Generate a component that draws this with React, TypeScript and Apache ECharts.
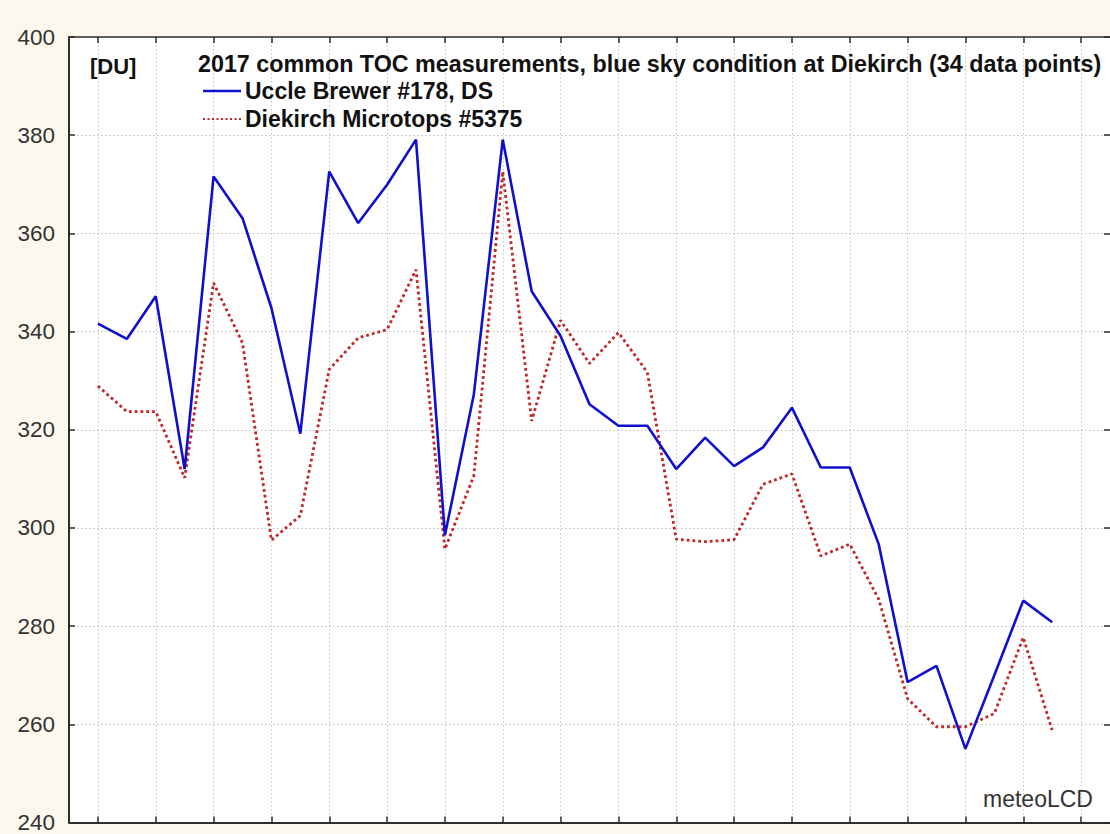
import React, { useEffect, useRef } from "react";
import * as echarts from "echarts";

// x slots: one empty slot on each side of the 34 measurements, plus one extra on the right
const slots = [
  "", "1", "2", "3", "4", "5", "6", "7", "8", "9", "10", "11", "12", "13", "14", "15", "16", "17",
  "18", "19", "20", "21", "22", "23", "24", "25", "26", "27", "28", "29", "30", "31", "32", "33", "34", "", "",
];

const seriesNames = ["Uccle Brewer #178, DS", "Diekirch Microtops #5375"];

const brewer = [
  341.6, 338.5, 347.2, 312.0, 371.6, 363.1, 344.8, 319.2, 372.6, 362.1, 369.9, 379.1,
  298.5, 327.2, 379.1, 348.2, 339.1, 325.2, 320.8, 320.8, 312.0, 318.4, 312.6, 316.4,
  324.5, 312.3, 312.3, 296.7, 268.6, 271.9, 255.0, 270.0, 285.2, 280.8,
];

const microtops = [
  328.9, 323.7, 323.7, 310.2, 349.9, 337.7, 297.5, 302.5, 332.3, 338.7, 340.4, 352.6,
  295.7, 310.6, 372.6, 321.8, 342.3, 333.5, 339.8, 331.7, 297.7, 297.2, 297.6, 308.9,
  311.0, 294.3, 296.7, 285.5, 265.2, 259.5, 259.5, 262.2, 277.7, 258.8,
];

const yMin = 240;
const yMax = 400;
const yStep = 20;

const titleText =
  "2017 common TOC measurements, blue sky condition at Diekirch (34 data points)";
const unitText = "[DU]";
const creditText = "meteoLCD";

const blueColor = "#1010cc";
const redColor = "#c22626";

export default function App() {
  const ref = useRef<HTMLDivElement>(null);

  useEffect(() => {
    if (!ref.current) return;
    const chart = echarts.init(ref.current, null, { renderer: "svg" });
    const font = "'Liberation Sans', Arial, Helvetica, sans-serif";
    const axisColor = "#2e2e2e";
    const gridStyle = { color: "#c2c2c2", width: 1, type: [1.5, 2.5] as number[] };
    const oddSlot = (i: number) => i % 2 === 1;
    const legendFont = { fontSize: 23, fontWeight: "bold", fill: "#111", fontFamily: font };

    chart.setOption({
      animation: false,
      backgroundColor: "#fcf8ee",
      textStyle: { fontFamily: font },
      grid: {
        left: 69,
        right: 0,
        top: 37,
        bottom: 10,
        show: true,
        backgroundColor: "#ffffff",
        borderWidth: 0,
      },
      title: [
        {
          text: titleText,
          left: 198,
          top: 52,
          padding: 0,
          textStyle: { fontSize: 23.3, fontWeight: "bold", color: "#111", fontFamily: font },
        },
        {
          text: unitText,
          left: 90,
          top: 55,
          padding: 0,
          textStyle: { fontSize: 22, fontWeight: "bold", color: "#111", fontFamily: font },
        },
        {
          text: creditText,
          left: 983,
          top: 787,
          padding: 0,
          textStyle: { fontSize: 23, fontWeight: "normal", color: "#333", fontFamily: font },
        },
      ],
      graphic: [
        {
          type: "line",
          shape: { x1: 203, y1: 91, x2: 241, y2: 91 },
          style: { stroke: blueColor, lineWidth: 2.6 },
          z: 10,
        },
        {
          type: "text",
          x: 245,
          y: 91,
          style: { text: seriesNames[0], ...legendFont, textVerticalAlign: "middle", verticalAlign: "middle" },
          z: 10,
        },
        {
          type: "line",
          shape: { x1: 203, y1: 119, x2: 241, y2: 119 },
          style: { stroke: redColor, lineWidth: 2, lineDash: [2, 2.5] },
          z: 10,
        },
        {
          type: "text",
          x: 245,
          y: 119,
          style: { text: seriesNames[1], ...legendFont, textVerticalAlign: "middle", verticalAlign: "middle" },
          z: 10,
        },
      ],
      xAxis: [
        {
          type: "category",
          data: slots,
          boundaryGap: false,
          position: "bottom",
          axisLine: { show: true, lineStyle: { color: axisColor, width: 2 } },
          axisTick: { show: true, inside: true, length: 6, interval: oddSlot, lineStyle: { color: axisColor, width: 1.5 } },
          axisLabel: { show: false },
          splitLine: { show: true, interval: oddSlot, lineStyle: gridStyle },
        },
        {
          type: "category",
          data: slots,
          boundaryGap: false,
          position: "top",
          axisLine: { show: true, lineStyle: { color: axisColor, width: 1.5 } },
          axisTick: { show: true, inside: true, length: 6, interval: oddSlot, lineStyle: { color: axisColor, width: 1.5 } },
          axisLabel: { show: false },
          splitLine: { show: false },
        },
      ],
      yAxis: [
        {
          type: "value",
          min: yMin,
          max: yMax,
          interval: yStep,
          position: "left",
          axisLine: { show: true, lineStyle: { color: axisColor, width: 2 } },
          axisTick: { show: true, inside: true, length: 6, lineStyle: { color: axisColor, width: 1.5 } },
          axisLabel: { fontSize: 22.5, color: "#333", margin: 14, fontFamily: font },
          splitLine: { show: true, lineStyle: gridStyle },
        },
        {
          type: "value",
          min: yMin,
          max: yMax,
          interval: yStep,
          position: "right",
          axisLine: { show: false },
          axisTick: { show: true, inside: true, length: 6, lineStyle: { color: axisColor, width: 1.5 } },
          axisLabel: { show: false },
          splitLine: { show: false },
        },
      ],
      series: [
        {
          name: seriesNames[0],
          type: "line",
          xAxisIndex: 0,
          yAxisIndex: 0,
          data: brewer.map((v, i) => [i + 1, v]),
          symbol: "none",
          showSymbol: false,
          lineStyle: { color: blueColor, width: 2.6 },
          itemStyle: { color: blueColor },
          z: 3,
        },
        {
          name: seriesNames[1],
          type: "line",
          xAxisIndex: 0,
          yAxisIndex: 0,
          data: microtops.map((v, i) => [i + 1, v]),
          symbol: "none",
          showSymbol: false,
          lineStyle: { color: redColor, width: 2.8, type: [2.8, 3] },
          itemStyle: { color: redColor },
          z: 2,
        },
      ],
    });

    return () => chart.dispose();
  }, []);

  return (
    <div
      ref={ref}
      style={{ position: "fixed", left: 0, top: 0, width: 1110, height: 834 }}
    />
  );
}
